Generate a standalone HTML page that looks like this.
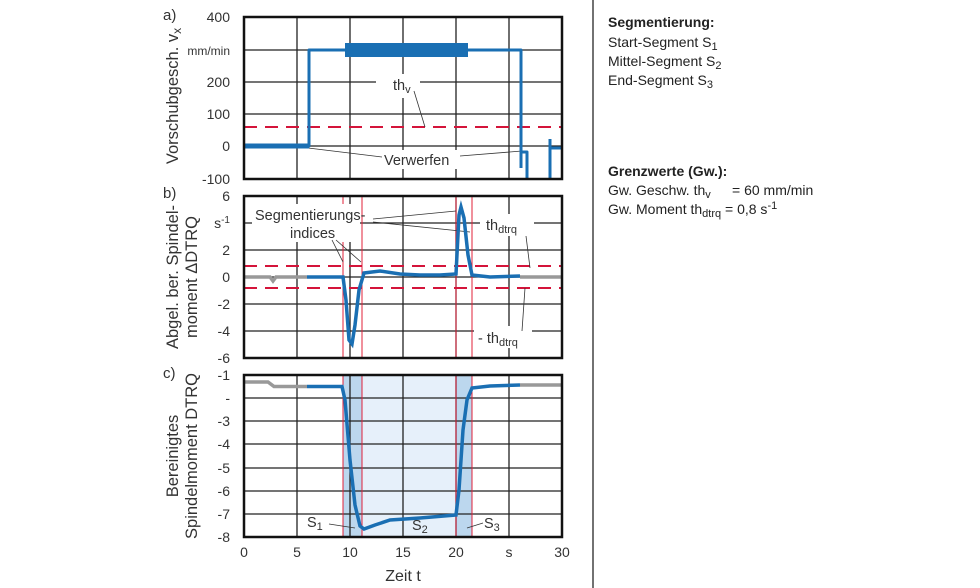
<!DOCTYPE html>
<html><head><meta charset="utf-8"><style>
body{margin:0;background:#fff;}
svg{display:block;font-family:"Liberation Sans",Arial,sans-serif;}
</style></head><body>
<svg width="980" height="588" viewBox="0 0 980 588" xmlns="http://www.w3.org/2000/svg">
<rect x="343" y="375" width="129" height="162" fill="#e6f0fa"/>
<rect x="343" y="375" width="19" height="162" fill="#bcd7ee"/>
<rect x="456" y="375" width="16" height="162" fill="#bcd7ee"/>
<g stroke="#222" stroke-width="1.3" fill="none">
<path d="M297 17V179M350 17V179M403 17V179M456 17V179M509 17V179M244 50H562M244 82H562M244 114H562M244 146H562"/>
<path d="M297 196V358M350 196V358M403 196V358M456 196V358M509 196V358M244 223H562M244 250H562M244 277H562M244 304H562M244 331H562"/>
<path d="M297 375V537M350 375V537M403 375V537M456 375V537M509 375V537M244 398H562M244 421H562M244 444H562M244 468H562M244 491H562M244 514H562"/>
</g>
<g stroke="#e0203a" stroke-width="1">
<path d="M343 196V358M362 196V358M456 196V358M472 196V358M343 375V537M362 375V537M456 375V537M472 375V537"/>
</g>
<g stroke="#d4143a" stroke-width="2" stroke-dasharray="13,8" fill="none">
<path d="M244 127H562"/><path d="M244 266H562M244 288H562"/>
</g>
<rect x="376" y="74" width="44" height="24" fill="#fff"/>
<rect x="378" y="150" width="84" height="19" fill="#fff"/>
<rect x="252" y="204" width="108" height="38" fill="#fff"/>
<rect x="480" y="214" width="54" height="22" fill="#fff"/>
<rect x="474" y="326" width="58" height="22" fill="#fff"/>
<g stroke="#333" stroke-width="0.8" fill="none">
<path d="M414 91L425 127"/>
<path d="M300 147L382 157M460 156L522 151"/>
<path d="M332 240L343 262M336 240L361 262"/>
<path d="M373 219L456 211M373 222L470 232"/>
<path d="M526 236L530 268M522 331L525 288"/>
<path d="M329 524L355 528M483 523L467 528"/>
</g>
<g fill="none" stroke="#1a6fb3" stroke-linejoin="round">
<path d="M244 146H309V50H345M468 50H521V168M521 152H527V179M550 179V139M550 148H562" stroke-width="3"/>
<path d="M345 50H468" stroke-width="14"/>
<path d="M244 146H309" stroke-width="5"/>
</g>
<path d="M244 277H270L273 281L276 277H307" stroke="#999" stroke-width="3.5" fill="none"/>
<path d="M520 277H562" stroke="#999" stroke-width="3.5" fill="none"/>
<path d="M307 277H343L346 300L349 340L352 344L355 325L359 290L364 273L380 271L400 274L420 275L440 275L456 274L459 215L461 207L464 218L468 255L472 275L490 277L520 276" stroke="#1a6fb3" stroke-width="3.5" fill="none"/>
<path d="M244 382H268L274 386.5H307" stroke="#999" stroke-width="3.5" fill="none"/>
<path d="M520 385H562" stroke="#999" stroke-width="3.5" fill="none"/>
<path d="M307 386.5H342L345 400L350 460L355 505L360 526L364 529L375 525L390 520L420 518L456 515L459 490L463 430L467 400L472 388L490 386L520 385" stroke="#1a6fb3" stroke-width="3.5" fill="none"/>
<g stroke="#111" stroke-width="2.5" fill="none">
<rect x="244" y="17" width="318" height="162"/>
<rect x="244" y="196" width="318" height="162"/>
<rect x="244" y="375" width="318" height="162"/>
</g>
<line x1="593" y1="0" x2="593" y2="588" stroke="#444" stroke-width="1.5"/>
<g font-size="14" fill="#333" text-anchor="end">
<text x="230" y="22">400</text><text x="230" y="55" font-size="12">mm/min</text><text x="230" y="87">200</text><text x="230" y="119">100</text><text x="230" y="151">0</text><text x="230" y="184">-100</text>
<text x="230" y="201">6</text><text x="230" y="228">s<tspan dy="-5" font-size="10">-1</tspan></text><text x="230" y="255">2</text><text x="230" y="282">0</text><text x="230" y="309">-2</text><text x="230" y="336">-4</text><text x="230" y="363">-6</text>
<text x="230" y="380">-1</text><text x="230" y="403">-</text><text x="230" y="426">-3</text><text x="230" y="449">-4</text><text x="230" y="473">-5</text><text x="230" y="496">-6</text><text x="230" y="519">-7</text><text x="230" y="542">-8</text>
</g>
<g font-size="14" fill="#333" text-anchor="middle">
<text x="244" y="557">0</text><text x="297" y="557">5</text><text x="350" y="557">10</text><text x="403" y="557">15</text><text x="456" y="557">20</text><text x="509" y="557">s</text><text x="562" y="557">30</text>
</g>
<text x="403" y="581" font-size="16" fill="#333" text-anchor="middle">Zeit t</text>
<g font-size="15" fill="#333">
<text x="163" y="20">a)</text><text x="163" y="198">b)</text><text x="163" y="378">c)</text>
</g>
<g font-size="16.5" fill="#333" text-anchor="middle">
<text transform="translate(178,96) rotate(-90)">Vorschubgesch. v<tspan font-size="12" dy="3">x</tspan></text>
<text transform="translate(178,277) rotate(-90)">Abgel. ber. Spindel-</text>
<text transform="translate(197,277) rotate(-90)">moment ΔDTRQ</text>
<text transform="translate(178,456) rotate(-90)">Bereinigtes</text>
<text transform="translate(197,456) rotate(-90)">Spindelmoment DTRQ</text>
</g>
<g font-size="14.5" fill="#333">
<text x="393" y="90">th<tspan font-size="11" dy="3">v</tspan></text>
<text x="384" y="165">Verwerfen</text>
<text x="255" y="220">Segmentierungs-</text>
<text x="290" y="238">indices</text>
<text x="486" y="230">th<tspan font-size="11" dy="3">dtrq</tspan></text>
<text x="478" y="343">- th<tspan font-size="11" dy="3">dtrq</tspan></text>
<text x="307" y="527">S<tspan font-size="11" dy="3">1</tspan></text>
<text x="412" y="530">S<tspan font-size="11" dy="3">2</tspan></text>
<text x="484" y="528">S<tspan font-size="11" dy="3">3</tspan></text>
</g>
<g font-size="14" fill="#222">
<text x="608" y="27" font-weight="bold">Segmentierung:</text>
<text x="608" y="47">Start-Segment S<tspan font-size="11" dy="3">1</tspan></text>
<text x="608" y="66">Mittel-Segment S<tspan font-size="11" dy="3">2</tspan></text>
<text x="608" y="85">End-Segment S<tspan font-size="11" dy="3">3</tspan></text>
<text x="608" y="176" font-weight="bold">Grenzwerte (Gw.):</text>
<text x="608" y="195">Gw. Geschw. th<tspan font-size="11" dy="3">v</tspan><tspan dy="-3" x="732">= 60 mm/min</tspan></text>
<text x="608" y="214">Gw. Moment th<tspan font-size="11" dy="3">dtrq</tspan><tspan dy="-3"> = 0,8 s</tspan><tspan font-size="11" dy="-5">-1</tspan></text>
</g>
</svg>
</body></html>
